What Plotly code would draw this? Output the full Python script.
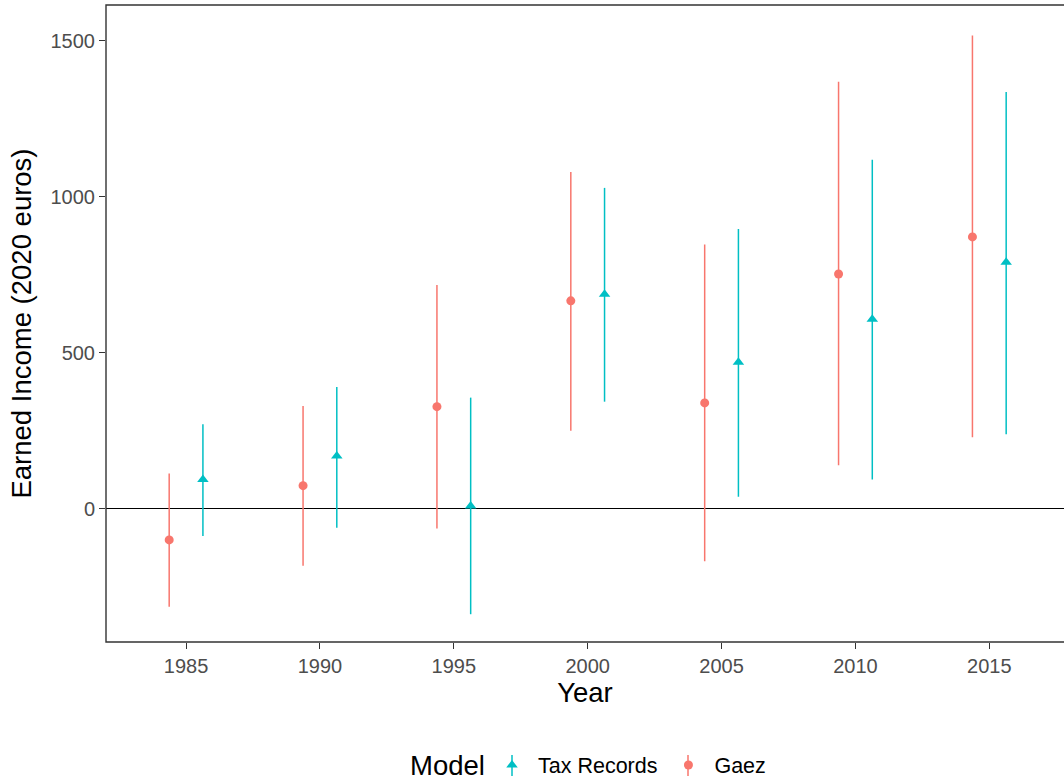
import plotly.graph_objects as go

years = [1985, 1990, 1995, 2000, 2005, 2010, 2015]

gaez_est = [-100, 74, 327, 666, 339, 752, 871]
gaez_lo = [-314, -183, -63, 250, -168, 139, 229]
gaez_hi = [113, 329, 717, 1079, 847, 1368, 1516]

tax_est = [94, 169, 9, 687, 469, 607, 790]
tax_lo = [-87, -61, -338, 343, 38, 94, 239]
tax_hi = [271, 390, 356, 1028, 896, 1118, 1335]

x_ticks = [1985, 1990, 1995, 2000, 2005, 2010, 2015]
y_ticks = [0, 500, 1000, 1500]

GAEZ_COL = "#F8766D"
TAX_COL = "#00BFC4"
dodge = 0.63  # position_dodge half-width in years

fig = go.Figure()

fig.add_trace(go.Scatter(
    x=[y + dodge for y in years], y=tax_est, mode="markers", name="\u00a0Tax Records\u00a0",
    marker=dict(symbol="triangle-up", size=10, color=TAX_COL),
    error_y=dict(type="data", symmetric=False,
                 array=[h - e for h, e in zip(tax_hi, tax_est)],
                 arrayminus=[e - l for e, l in zip(tax_est, tax_lo)],
                 color=TAX_COL, thickness=1.5, width=0),
))
fig.add_trace(go.Scatter(
    x=[y - dodge for y in years], y=gaez_est, mode="markers", name="\u00a0Gaez",
    marker=dict(symbol="circle", size=9, color=GAEZ_COL),
    error_y=dict(type="data", symmetric=False,
                 array=[h - e for h, e in zip(gaez_hi, gaez_est)],
                 arrayminus=[e - l for e, l in zip(gaez_est, gaez_lo)],
                 color=GAEZ_COL, thickness=1.5, width=0),
))

# panel border (right side runs off the image)
fig.add_shape(type="rect", xref="paper", yref="paper", x0=0, x1=1.02, y0=0, y1=1,
              line=dict(color="#333333", width=1.4), fillcolor="rgba(0,0,0,0)", layer="above")

# pointrange-style vertical strokes through legend keys
PW, PH, PL, PB = 958, 637, 106, 642
for kx, col in [(512, TAX_COL), (688, GAEZ_COL)]:
    fig.add_shape(type="line", xref="paper", yref="paper",
                  x0=(kx - PL) / PW, x1=(kx - PL) / PW,
                  y0=(PB - 755) / PH, y1=(PB - 776) / PH,
                  line=dict(color=col, width=1.5), layer="above")

fig.add_annotation(text="Model", xref="paper", yref="paper", x=(408 - 106) / 958, xanchor="left",
                   y=(642 - 765) / 637, yanchor="middle", showarrow=False,
                   font=dict(size=27.5, color="black"))

font_family = "Liberation Sans, Arial, sans-serif"
fig.update_layout(
    width=1064, height=780,
    margin=dict(l=106, r=0, t=5, b=138, autoexpand=False),
    paper_bgcolor="white", plot_bgcolor="white",
    font=dict(family=font_family, color="black"),
    showlegend=True,
    legend=dict(orientation="h", x=(492 - 106) / 958, xanchor="left", y=(642 - 765) / 637, yanchor="middle",
                bgcolor="rgba(0,0,0,0)",
                font=dict(size=21.5, color="black"), itemwidth=30),
    xaxis=dict(range=[1982.01, 2017.79], tickvals=x_ticks, ticktext=[str(t) for t in x_ticks],
               showgrid=False, zeroline=False, showline=False, automargin=False,
               ticks="outside", ticklen=6, tickwidth=1.4, tickcolor="#333333",
               tickfont=dict(size=20, color="#4D4D4D"),
               title=dict(text="Year", font=dict(size=27.5, color="black"), standoff=6)),
    yaxis=dict(range=[-427, 1614], tickvals=y_ticks, ticktext=[str(t) for t in y_ticks],
               showgrid=False, zeroline=True, zerolinecolor="black", zerolinewidth=1.4,
               showline=False, automargin=False,
               ticks="outside", ticklen=6, tickwidth=1.4, tickcolor="#333333",
               tickfont=dict(size=20, color="#4D4D4D"),
               title=dict(text="Earned Income (2020 euros)", font=dict(size=27.5, color="black"), standoff=10)),
)

fig.write_html("out.html", config={"displayModeBar": False},
               post_script="document.body.style.margin='0';")
